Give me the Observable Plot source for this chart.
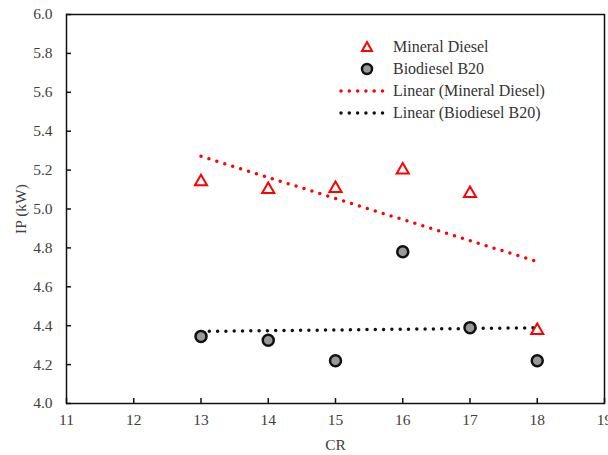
<!DOCTYPE html>
<html>
<head>
<meta charset="utf-8">
<script src="https://cdn.jsdelivr.net/npm/d3@7"></script>
<script src="https://cdn.jsdelivr.net/npm/@observablehq/plot@0.6"></script>
<style>
  html, body { margin: 0; padding: 0; background: #fff; }
  #wrap { position: relative; width: 608px; height: 455px; font-family: "Liberation Serif", "Times New Roman", serif; }
  #legend { position: absolute; left: 336px; top: 36px; font-size: 16px; color: #333; }
  .row { display: flex; align-items: center; height: 22px; }
  .row svg { width: 52px; height: 22px; flex: none; margin-right: 5px; }
</style>
</head>
<body>
<div id="wrap"></div>
<script>
const cr = [13, 14, 15, 16, 17, 18];
const mineralDiesel = [5.14, 5.10, 5.105, 5.20, 5.08, 4.375];
const biodieselB20 = [4.345, 4.325, 4.22, 4.78, 4.39, 4.22];
const xTicks = [11, 12, 13, 14, 15, 16, 17, 18, 19];
const yTicks = [4.0, 4.2, 4.4, 4.6, 4.8, 5.0, 5.2, 5.4, 5.6, 5.8, 6.0];

const md = cr.map((x, i) => ({x, y: mineralDiesel[i]}));
const bd = cr.map((x, i) => ({x, y: biodieselB20[i]}));

const chart = Plot.plot({
  width: 608,
  height: 455,
  marginLeft: 66,
  marginTop: 14,
  marginRight: 4,
  marginBottom: 52,
  style: {fontFamily: '"Liberation Serif", "Times New Roman", serif', fontSize: "15.5px", color: "#404040", background: "#fff"},
  x: {domain: [11, 19]},
  y: {domain: [4.0, 6.0]},
  marks: [
    Plot.frame({stroke: "#111", strokeWidth: 1.5}),
    Plot.axisX({ticks: xTicks, tickSize: -5, tickPadding: 15, stroke: "#111", strokeWidth: 1.5, label: "CR", labelAnchor: "center", labelArrow: "none", labelOffset: 46, fontSize: 15.5}),
    Plot.axisY({ticks: yTicks, tickSize: -5, tickPadding: 19, tickFormat: d3.format(".1f"), stroke: "#111", strokeWidth: 1.5, label: "IP (kW)", labelAnchor: "center", labelArrow: "none", labelOffset: 52, fontSize: 15.5}),
    Plot.linearRegressionY(md, {x: "x", y: "y", ci: 0, stroke: "#ff0000", strokeWidth: 3.5, strokeDasharray: "0,8.3", strokeLinecap: "round"}),
    Plot.linearRegressionY(bd, {x: "x", y: "y", ci: 0, stroke: "#111", strokeWidth: 3.5, strokeDasharray: "0,8.3", strokeLinecap: "round"}),
    Plot.dot(bd, {x: "x", y: "y", r: 5.5, fill: "#999", stroke: "#111", strokeWidth: 2.5}),
    Plot.dot(md, {x: "x", y: "y", symbol: "triangle", r: 4.5, fill: "#fff", stroke: "#ff0000", strokeWidth: 2})
  ]
});

const wrap = document.getElementById("wrap");
wrap.appendChild(chart);

const legendItems = [
  {label: "Mineral Diesel", kind: "tri"},
  {label: "Biodiesel B20", kind: "circ"},
  {label: "Linear (Mineral Diesel)", kind: "line", color: "#ff0000"},
  {label: "Linear (Biodiesel B20)", kind: "line", color: "#111"}
];
const legend = document.createElement("div");
legend.id = "legend";
for (const it of legendItems) {
  const row = document.createElement("div");
  row.className = "row";
  let icon;
  if (it.kind === "tri") icon = '<svg><path d="M31,6 L36,15 L26,15 Z" fill="#fff" stroke="#ff0000" stroke-width="2"/></svg>';
  else if (it.kind === "circ") icon = '<svg><circle cx="31" cy="11" r="5" fill="#999" stroke="#111" stroke-width="2.5"/></svg>';
  else icon = `<svg><line x1="5" x2="48" y1="11" y2="11" stroke="${it.color}" stroke-width="3.5" stroke-dasharray="0,8.3" stroke-linecap="round"/></svg>`;
  row.innerHTML = icon + `<span>${it.label}</span>`;
  legend.appendChild(row);
}
wrap.appendChild(legend);
</script>
</body>
</html>
